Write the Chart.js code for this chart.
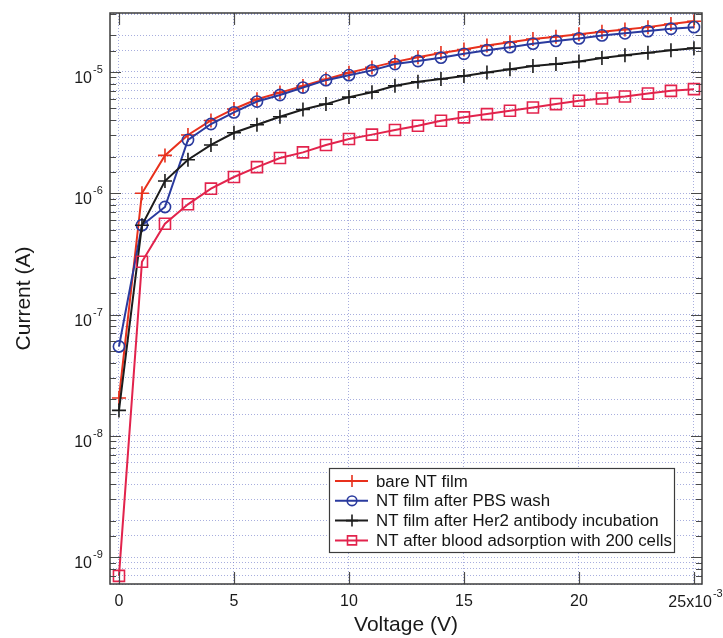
<!DOCTYPE html>
<html><head><meta charset="utf-8">
<script src="https://cdn.jsdelivr.net/npm/chart.js@4/dist/chart.umd.min.js"></script>
<style>html,body{margin:0;padding:0;background:#fff;overflow:hidden}</style>
</head><body>
<canvas id="c" width="723" height="638"></canvas>
<script>
// Voltage in units of 1e-3 V
const voltage = [0,1,2,3,4,5,6,7,8,9,10,11,12,13,14,15,16,17,18,19,20,21,22,23,24,25];
const bareNT = [2.05e-8,1.0e-6,2.05e-6,3.02e-6,3.98e-6,4.95e-6,5.95e-6,6.75e-6,7.65e-6,8.7e-6,9.85e-6,1.09e-5,1.21e-5,1.32e-5,1.43e-5,1.53e-5,1.65e-5,1.76e-5,1.87e-5,1.95e-5,2.04e-5,2.14e-5,2.24e-5,2.34e-5,2.48e-5,2.62e-5];
const pbsWash = [5.45e-8,5.45e-7,7.7e-7,2.75e-6,3.72e-6,4.64e-6,5.7e-6,6.45e-6,7.43e-6,8.55e-6,9.4e-6,1.03e-5,1.16e-5,1.23e-5,1.31e-5,1.41e-5,1.51e-5,1.6e-5,1.71e-5,1.8e-5,1.89e-5,2.0e-5,2.08e-5,2.17e-5,2.27e-5,2.34e-5];
const her2Ab = [1.62e-8,5.45e-7,1.26e-6,1.89e-6,2.5e-6,3.15e-6,3.67e-6,4.27e-6,4.9e-6,5.43e-6,6.2e-6,6.8e-6,7.7e-6,8.3e-6,8.75e-6,9.27e-6,9.9e-6,1.05e-5,1.12e-5,1.16e-5,1.22e-5,1.3e-5,1.37e-5,1.44e-5,1.51e-5,1.57e-5];
const blood200 = [7.0e-10,2.72e-7,5.6e-7,8.1e-7,1.09e-6,1.36e-6,1.64e-6,1.95e-6,2.17e-6,2.5e-6,2.8e-6,3.04e-6,3.32e-6,3.6e-6,3.96e-6,4.22e-6,4.49e-6,4.78e-6,5.09e-6,5.43e-6,5.78e-6,6.04e-6,6.27e-6,6.63e-6,6.98e-6,7.21e-6];
const seriesNames = ['bare NT film','NT film after PBS wash','NT film after Her2 antibody incubation','NT after blood adsorption with 200 cells'];
const seriesColors = ['#e8301c','#2a3a9e','#1c1c1c','#e2234c'];
const seriesMarkers = ['cross','circle','cross','rect'];
const xTickStep = 5;
const xScaleExponent = -3;
const yRange = [6.0e-10, 3.06e-5];
const xRange = [-0.39, 25.35];

const FONT = '"Liberation Sans", Arial, sans-serif';
const sup = {'-':'\u207B','0':'\u2070','1':'\u00B9','2':'\u00B2','3':'\u00B3','4':'\u2074','5':'\u2075','6':'\u2076','7':'\u2077','8':'\u2078','9':'\u2079'};
const toSup = s => String(s).split('').map(c=>sup[c]).join('');
function isDecade(v){ const l=Math.log10(v); return Math.abs(l-Math.round(l))<1e-6; }
const TXT = '#1a1a1a';

const seriesData = [bareNT, pbsWash, her2Ab, blood200];
const radii = {cross:7, circle:5.6, rect:7.8};
const datasets = seriesData.map((arr,i)=>({
  label: seriesNames[i],
  data: voltage.map((v,j)=>({x:v, y:arr[j]})),
  borderColor: seriesColors[i],
  backgroundColor: 'rgba(0,0,0,0)',
  borderWidth: 2,
  pointStyle: seriesMarkers[i],
  pointRadius: radii[seriesMarkers[i]],
  pointBorderWidth: 1.6,
  pointBorderColor: seriesColors[i],
  pointBackgroundColor: 'rgba(0,0,0,0)',
  tension: 0,
  order: 4-i,
  clip: false
}));

// draws "base" with a superscript exponent, right edge of base at rx
function drawPow(ctx, base, exp, rx, baseline){
  ctx.fillStyle = TXT;
  ctx.textBaseline = 'alphabetic';
  ctx.font = '16px '+FONT;
  ctx.textAlign = 'right';
  ctx.fillText(base, rx, baseline);
  ctx.font = '11px '+FONT;
  ctx.textAlign = 'left';
  ctx.fillText(String(exp), rx+1, baseline-10);
}

const framePlugin = {
  id:'frame',
  afterDatasetsDraw(chart){
    const {ctx, chartArea:a, scales:{x,y}} = chart;
    ctx.save();
    ctx.strokeStyle = '#4a4a4a';
    ctx.lineWidth = 1.2;
    ctx.beginPath();
    y.ticks.forEach(t=>{
      const py = Math.round(y.getPixelForValue(t.value))+0.5;
      if (py < a.top+1 || py > a.bottom-1) return;
      const len = isDecade(t.value) ? 11 : 6;
      ctx.moveTo(a.left, py); ctx.lineTo(a.left+len, py);
      ctx.moveTo(a.right, py); ctx.lineTo(a.right-len, py);
    });
    x.ticks.forEach(t=>{
      const px = Math.round(x.getPixelForValue(t.value))+0.5;
      ctx.moveTo(px, a.bottom); ctx.lineTo(px, a.bottom-12);
      ctx.moveTo(px, a.top); ctx.lineTo(px, a.top+12);
    });
    ctx.stroke();
    ctx.lineWidth = 1.5;
    ctx.strokeStyle = '#3c3c3c';
    ctx.strokeRect(a.left, a.top, a.right-a.left, a.bottom-a.top);
    ctx.restore();
  },
  afterDraw(chart){
    const {ctx, chartArea:a, scales:{x,y}} = chart;
    ctx.save();
    // y tick labels: 10 with superscript exponent
    y.ticks.forEach(t=>{
      if (!isDecade(t.value)) return;
      const py = y.getPixelForValue(t.value);
      drawPow(ctx, '10', Math.round(Math.log10(t.value)), a.left-18, py+11);
    });
    // last x tick label with multiplier
    const lastX = x.ticks[x.ticks.length-1];
    const px = x.getPixelForValue(lastX.value);
    drawPow(ctx, lastX.value+'x10', xScaleExponent, px+18, a.bottom+23);

    // legend
    const right = a.right-28, bottom = a.bottom-32, w = 345, h = 84;
    const left = right-w, top = bottom-h;
    ctx.fillStyle = '#fff';
    ctx.fillRect(left, top, w, h);
    ctx.strokeStyle = '#3c3c3c';
    ctx.lineWidth = 1.2;
    ctx.strokeRect(left+0.5, top+0.5, w, h);
    let fs = 15;
    ctx.font = fs+'px '+FONT;
    const mw = ctx.measureText(seriesNames[3]).width;
    fs = fs*296/mw;
    ctx.font = fs.toFixed(2)+'px '+FONT;
    ctx.textBaseline = 'middle';
    ctx.textAlign = 'left';
    chart.data.datasets.forEach((ds,i)=>{
      const cy = top + 13 + i*19.8;
      ctx.strokeStyle = ds.borderColor;
      ctx.lineWidth = 2;
      ctx.beginPath(); ctx.moveTo(left+6, cy); ctx.lineTo(left+39, cy); ctx.stroke();
      const cx = left+23;
      ctx.lineWidth = 1.6;
      ctx.beginPath();
      if (ds.pointStyle==='cross'){
        ctx.moveTo(cx-6,cy); ctx.lineTo(cx+6,cy); ctx.moveTo(cx,cy-6); ctx.lineTo(cx,cy+6);
      } else if (ds.pointStyle==='circle'){
        ctx.arc(cx,cy,4.8,0,Math.PI*2);
      } else {
        ctx.rect(cx-4.5,cy-4.5,9,9);
      }
      ctx.stroke();
      ctx.fillStyle = '#151515';
      ctx.fillText(ds.label, left+47, cy+1);
    });
    ctx.restore();
  }
};

new Chart(document.getElementById('c'), {
  type:'line',
  data:{datasets},
  options:{
    responsive:false,
    animation:false,
    devicePixelRatio:1,
    layout:{padding:{top:13,right:21,left:0,bottom:0}},
    plugins:{legend:{display:false},tooltip:{enabled:false}},
    scales:{
      x:{
        type:'linear', min:xRange[0], max:xRange[1],
        afterFit(s){ s.height = 54; s.paddingLeft = 0; s.paddingRight = 0; },
        ticks:{stepSize:xTickStep, includeBounds:false, autoSkip:false, maxRotation:0,
          padding:8, font:{family:FONT,size:16},
          color:(c)=> (c.tick && c.tick.value===25) ? 'rgba(0,0,0,0)' : TXT,
          callback:(v)=> v===25 ? '25x10'+toSup(xScaleExponent) : String(v)},
        grid:{drawTicks:false, color:'rgba(110,120,200,0.6)', lineWidth:1},
        border:{display:false, dash:[1,2]},
        title:{display:true, text:'Voltage (V)', color:TXT, font:{family:FONT,size:21}, padding:{top:0,bottom:0}}
      },
      y:{
        type:'logarithmic', min:yRange[0], max:yRange[1],
        afterFit(s){ s.width = 110; s.paddingTop = 0; s.paddingBottom = 0; },
        ticks:{autoSkip:false, padding:9, color:'rgba(0,0,0,0)', font:{family:FONT,size:16},
          callback:(v)=>{ if(!isDecade(v)) return ''; return '10'+toSup(Math.round(Math.log10(v))); }},
        grid:{drawTicks:false, color:'rgba(110,120,200,0.6)', lineWidth:1},
        border:{display:false, dash:[1,2]},
        title:{display:true, text:'Current (A)', color:TXT, font:{family:FONT,size:21}, padding:{top:12,bottom:0}}
      }
    }
  },
  plugins:[framePlugin]
});
</script>
</body></html>
